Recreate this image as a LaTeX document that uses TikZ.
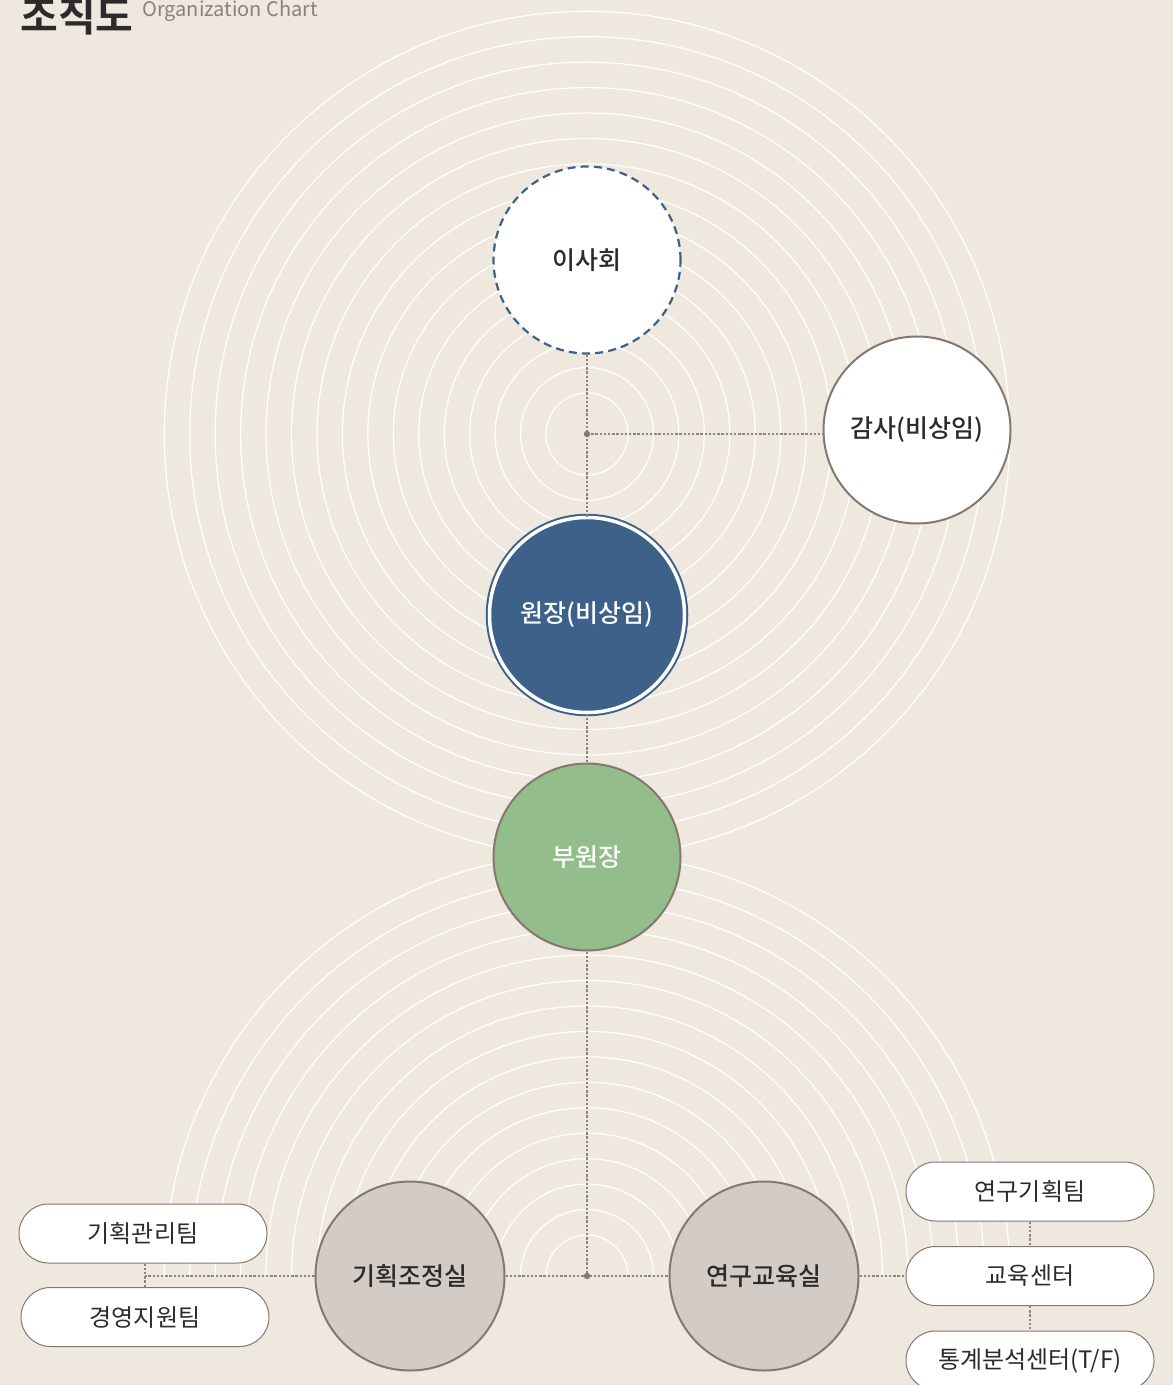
\documentclass[tikz,border=0pt]{standalone}
\usepackage{fontspec}
\setmainfont{Noto Sans CJK KR}[BoldFont={Noto Sans CJK KR Bold}]
\newfontfamily\medfont{Noto Sans CJK KR Medium}
\usepackage{xcolor}
\usetikzlibrary{positioning}

\definecolor{paper}{HTML}{EFE8DF}
\definecolor{ink}{HTML}{2B2B2B}
\definecolor{subgray}{HTML}{8A817B}
\definecolor{edge}{HTML}{857870}
\definecolor{linkgray}{HTML}{8E847D}
\definecolor{chief}{HTML}{3D6189}
\definecolor{vicegreen}{HTML}{93BD8B}
\definecolor{deptgray}{HTML}{D3CBC5}

\begin{document}
\begin{tikzpicture}[x=0.5pt,y=-0.5pt,
  ring/.style={white,line width=0.6pt},
  link/.style={draw=linkgray,line width=0.6pt,dash pattern=on 1.2pt off 0.9pt},
  unit/.style={circle,minimum size=93.5pt,inner sep=0pt,line width=1pt,
    font=\medfont\fontsize{12.5}{15}\selectfont,text=ink},
  team/.style={rectangle,rounded corners=14.75pt,minimum width=124pt,minimum height=29.5pt,
    inner sep=0pt,draw=edge,line width=0.5pt,fill=white,font=\fontsize{12}{14}\selectfont,text=ink},
  node distance=12.25pt]
  \useasboundingbox (0,0) rectangle (1173,1385);
  \fill[paper] (0,0) rectangle (1173,1385);

  % title
  \node[anchor=base west,inner sep=0pt,font=\fontsize{20.5}{21}\selectfont\bfseries,text=ink] (title) at (20,32) {조직도};
  \node[anchor=base west,inner sep=0pt,font=\fontsize{10}{12}\selectfont,text=subgray] (subtitle) at (142,17) {Organization Chart};

  % background rings
  \coordinate (hub) at (587,434);
  \coordinate (hubb) at (587,1276);
  \foreach \k in {0,...,15}{
    \pgfmathsetmacro\rr{(41+25.45*\k)*0.5}
    \draw[ring] (hub) circle (\rr pt);
    \draw[ring] ([xshift=-\rr pt]hubb) arc (180:0:\rr pt);
  }

  % units
  \node[unit,fill=white,draw=chief,line width=1.1pt,dash pattern=on 4pt off 2.6pt] (board) at (587,260) {이사회};
  \node[unit,fill=white,draw=edge] (audit) at (917,430) {감사(비상임)};
  \node[unit,minimum size=97.5pt,fill=chief,draw=chief,line width=1pt,double=white,double distance=1.75pt,text=white] (head) at (587,615) {원장(비상임)};
  \node[unit,fill=vicegreen,draw=edge,text=white] (vice) at (587,857) {부원장};
  \node[unit,minimum size=94.5pt,fill=deptgray,draw=edge] (plan) at (410,1276) {기획조정실};
  \node[unit,minimum size=94.5pt,fill=deptgray,draw=edge] (research) at (764,1276) {연구교육실};

  % teams
  \node[team] (lt1) at (143,1233.5) {기획관리팀};
  \node[team] (lt2) at (145,1317) {경영지원팀};
  \node[team] (rt2) at (1030,1276) {교육센터};
  \node[team,above=of rt2] (rt1) {연구기획팀};
  \node[team,below=of rt2] (rt3) {통계분석센터(T/F)};
  \coordinate (jl) at (145,1276);

  % connectors
  \draw[link] (board) -- (head);
  \draw[link] (hub) -- (hub -| audit.west);
  \draw[link] (head) -- (vice);
  \draw[link] (vice) -- (hubb);
  \draw[link] (plan) -- (research);
  \draw[link] (plan) -- (jl);
  \draw[link] (lt1.south -| jl) -- (lt2.north -| jl);
  \draw[link] (research) -- (rt2);
  \draw[link] (rt1) -- (rt2);
  \draw[link] (rt2) -- (rt3);
  \fill[edge] (hub) circle (1.6pt);
  \fill[edge] (hubb) circle (1.6pt);
\end{tikzpicture}
\end{document}
